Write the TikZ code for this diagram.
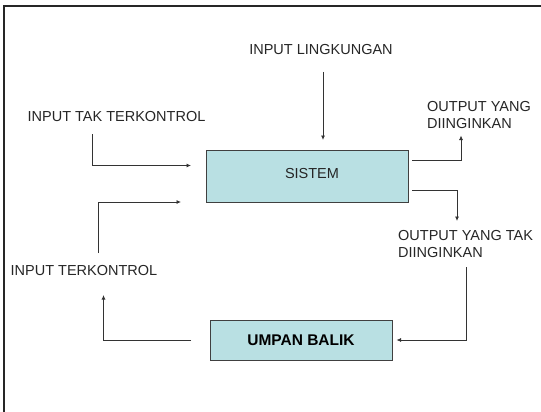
\documentclass[tikz,border=0pt]{standalone}
\usepackage{fontspec}
\setmainfont{Liberation Sans}
\usetikzlibrary{arrows.meta}
\begin{document}
\begin{tikzpicture}[x=1pt,y=-1pt,
  lbl/.style={inner sep=0pt,font=\fontsize{14.5}{17}\selectfont,text=black!85},
  blok/.style={draw=black!75,line width=0.9pt,fill=boxfill,inner sep=0pt},
  conn/.style={draw=black!80,line width=0.8pt},
  arr/.style={conn,-{Latex[length=4.5pt,width=4pt]}}]
\definecolor{boxfill}{HTML}{B9E0E3}
\useasboundingbox (0,0) rectangle (541,412);
\fill[white] (0,0) rectangle (541,412);
% frame
\draw[black!85,line width=2pt] (4,430) -- (4,6) -- (560,6);
% boxes
\node[blok,minimum width=202pt,minimum height=52pt] (sis) at (307,176) {};
\node[lbl] at (312,174) {SISTEM};
\node[blok,minimum width=182pt,minimum height=40pt,font=\fontsize{15.5}{17}\selectfont\bfseries] (ub) at (301,340) {UMPAN BALIK};
% labels
\node[lbl] (ling) at (321,50) {INPUT LINGKUNGAN};
\node[lbl] (itk) at (116.5,117) {INPUT TAK TERKONTROL};
\node[lbl,align=left,anchor=west] (od) at (427,115.5) {OUTPUT YANG\\DIINGINKAN};
\node[lbl,align=left,anchor=west] (otd) at (398,244) {OUTPUT YANG TAK\\DIINGINKAN};
\node[lbl] (ik) at (84,271) {INPUT TERKONTROL};
% connector end points
\coordinate (a1) at (323,72);
\coordinate (a2) at (323,140);
\coordinate (b1) at (92,134);
\coordinate (b2) at (191,165.5);
\coordinate (c1) at (412,160);
\coordinate (c2) at (461,135.5);
\coordinate (d1) at (412,190);
\coordinate (d2) at (457,221);
\coordinate (e1) at (466,267);
\coordinate (e2) at (396.5,340);
\coordinate (f1) at (191,340);
\coordinate (f2) at (103.5,295);
\coordinate (g1) at (98,253);
\coordinate (g2) at (181,202);
% connectors
\draw[arr] (a1) -- (a2);
\draw[arr] (b1) |- (b2);
\draw[arr] (c1) -| (c2);
\draw[arr] (d1) -| (d2);
\draw[arr] (e1) |- (e2);
\draw[arr] (f1) -| (f2);
\draw[arr] (g1) |- (g2);
\end{tikzpicture}
\end{document}
